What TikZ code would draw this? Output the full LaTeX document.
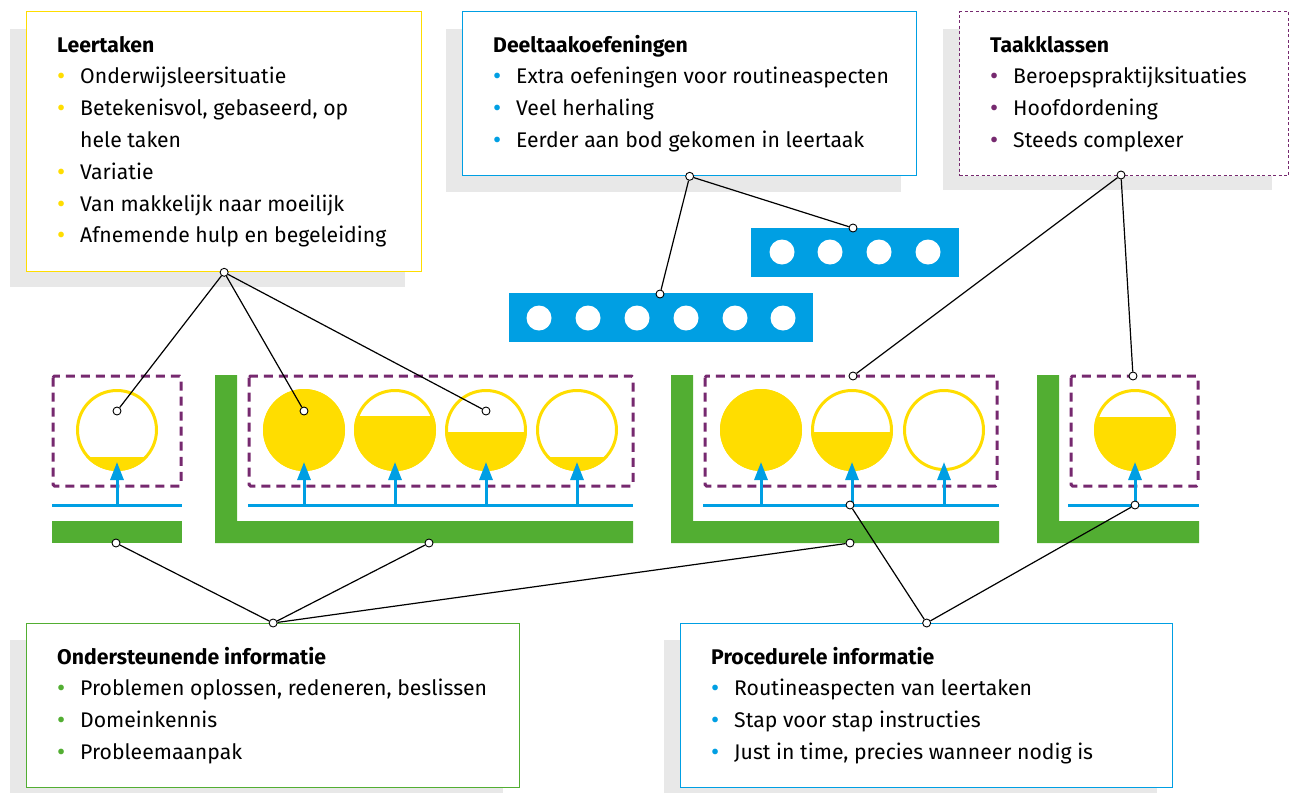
\documentclass[tikz,border=0pt]{standalone}
\usepackage{fontspec}
\setmainfont{Fira Sans}
\usetikzlibrary{arrows.meta}
\definecolor{ryellow}{HTML}{FFDD00}
\definecolor{rblue}{HTML}{009FE3}
\definecolor{rgreen}{HTML}{52AE32}
\definecolor{rpurple}{HTML}{76296F}
\definecolor{shade}{HTML}{E8E8E8}
\newcommand{\itm}[2]{\makebox[23pt][l]{\hspace{0pt}\raisebox{-1pt}{\textcolor{#1}{\fontsize{25}{25}\selectfont\textbullet}}}#2}
\newcommand{\cont}[1]{\hspace*{23pt}#1}
\newcommand{\boxlines}[1]{\vtop{\halign{##\hfil\cr#1\crcr}}}
\tikzset{
  shadowbox/.style={fill=shade, draw=none},
  infobox/.style={fill=white, line width=1.3pt, inner sep=0pt, anchor=north west},
  boxtext/.style={anchor=base west, inner sep=0pt, font=\fontsize{21.2}{31.8}\selectfont},
  dot/.style={circle, draw=black, fill=white, inner sep=0pt, minimum size=8pt, line width=0.9pt},
  conn/.style={draw=black, line width=1.2pt},
  flowline/.style={draw=rblue, line width=3pt},
  uparrow/.style={draw=rblue, line width=3pt, -{Triangle[width=13pt,length=18pt]}},
  classbox/.style={draw=rpurple, line width=3pt, dash pattern=on 9pt off 6pt, rounded corners=1.5pt},
  ring/.style={draw=ryellow, line width=3pt},
  bar/.style={fill=rblue},
  hole/.style={circle, fill=white, inner sep=0pt, minimum size=25pt}
}
\newcommand{\task}[3]{%
  \begin{scope}
    \clip (#1,430) circle[radius=41pt];
    \fill[ryellow] (#1-45,#2) rectangle (#1+45,475);
  \end{scope}
  \node[circle, minimum size=79pt, inner sep=0pt, ring] (#3) at (#1,430) {};
  \draw[uparrow] (#1,505) -- (#1,462);
}
\begin{document}
\begin{tikzpicture}[x=1pt,y=-1pt]
\useasboundingbox (0,0) rectangle (1294,793);

% ---------- shadows ----------
\fill[shadowbox] (10,29) rectangle (405,287);
\fill[shadowbox] (446,29) rectangle (901,192);
\fill[shadowbox] (943,29) rectangle (1272,190);
\fill[shadowbox] (10,640) rectangle (503,793);
\fill[shadowbox] (664,640) rectangle (1157,793);

% ---------- info boxes ----------
\node[infobox, draw=ryellow, minimum width=395pt, minimum height=260pt] (leertaken) at (26,11) {};
\node[boxtext] (leertakentxt) at (57,52) {\boxlines{\textbf{Leertaken}\cr
\itm{ryellow}{Onderwijsleersituatie}\cr
\itm{ryellow}{Betekenisvol, gebaseerd, op}\cr
\cont{hele taken}\cr
\itm{ryellow}{Variatie}\cr
\itm{ryellow}{Van makkelijk naar moeilijk}\cr
\itm{ryellow}{Afnemende hulp en begeleiding}}};

\node[infobox, draw=rblue, minimum width=454pt, minimum height=164pt] (deeltaak) at (462,11) {};
\node[boxtext] (deeltaaktxt) at (493,52) {\boxlines{\textbf{Deeltaakoefeningen}\cr
\itm{rblue}{Extra oefeningen voor routineaspecten}\cr
\itm{rblue}{Veel herhaling}\cr
\itm{rblue}{Eerder aan bod gekomen in leertaak}}};

\node[infobox, draw=rpurple, dash pattern=on 3pt off 2.5pt, minimum width=329pt, minimum height=164pt] (taakklassen) at (959,11) {};
\node[boxtext] (taakklassentxt) at (990,52) {\boxlines{\textbf{Taakklassen}\cr
\itm{rpurple}{Beroepspraktijksituaties}\cr
\itm{rpurple}{Hoofdordening}\cr
\itm{rpurple}{Steeds complexer}}};

\node[infobox, draw=rgreen, minimum width=493pt, minimum height=164pt] (onderst) at (26,623) {};
\node[boxtext] (onderstxt) at (57,664) {\boxlines{\textbf{Ondersteunende informatie}\cr
\itm{rgreen}{Problemen oplossen, redeneren, beslissen}\cr
\itm{rgreen}{Domeinkennis}\cr
\itm{rgreen}{Probleemaanpak}}};

\node[infobox, draw=rblue, minimum width=492pt, minimum height=164pt] (proced) at (680,623) {};
\node[boxtext] (procedtxt) at (711,664) {\boxlines{\textbf{Procedurele informatie}\cr
\itm{rblue}{Routineaspecten van leertaken}\cr
\itm{rblue}{Stap voor stap instructies}\cr
\itm{rblue}{Just in time, precies wanneer nodig is}}};

% ---------- part-task practice bars ----------
\fill[bar] (509,293) rectangle (813,342);
\foreach \cx in {539,588,637,686,735,783} \node[hole] at (\cx,318) {};
\fill[bar] (751,228) rectangle (959,277);
\foreach \cx in {782,830,879,928} \node[hole] at (\cx,252) {};

% ---------- green supportive bars ----------
\fill[rgreen] (52,521) rectangle (182,543);
\fill[rgreen] (215,375) -- (237,375) -- (237,521) -- (633,521) -- (633,543) -- (215,543) -- cycle;
\fill[rgreen] (671,375) -- (693,375) -- (693,521) -- (999,521) -- (999,543) -- (671,543) -- cycle;
\fill[rgreen] (1037,375) -- (1059,375) -- (1059,521) -- (1199,521) -- (1199,543) -- (1037,543) -- cycle;

% ---------- blue procedural lines ----------
\draw[flowline] (52,505) -- (182,505);
\draw[flowline] (248,505) -- (633,505);
\draw[flowline] (703,505) -- (999,505);
\draw[flowline] (1068,505) -- (1199,505);

% ---------- task classes ----------
\draw[classbox] (53,376) rectangle (181,486);
\draw[classbox] (249,376) rectangle (633,486);
\draw[classbox] (705,376) rectangle (997,486);
\draw[classbox] (1071,376) rectangle (1198,486);

% ---------- learning tasks ----------
\task{117}{457}{t11}
\task{304}{380}{t21}
\task{395}{416}{t22}
\task{486}{432}{t23}
\task{577}{457}{t24}
\task{761}{380}{t31}
\task{852}{432}{t32}
\task{944}{480}{t33}
\task{1135}{417}{t41}

% ---------- connectors ----------
\node[dot] (lt0) at (leertaken.south) {};
\node[dot] (lt1) at (117,411) {};
\node[dot] (lt2) at (304,411) {};
\node[dot] (lt3) at (486,411) {};
\draw[conn] (lt0) -- (lt1);
\draw[conn] (lt0) -- (lt2);
\draw[conn] (lt0) -- (lt3);

\node[dot] (dt0) at (deeltaak.south) {};
\node[dot] (dt1) at (660,294) {};
\node[dot] (dt2) at (853,228) {};
\draw[conn] (dt0) -- (dt1);
\draw[conn] (dt0) -- (dt2);

\node[dot] (tk0) at (1121,175) {};
\node[dot] (tk1) at (853,376) {};
\node[dot] (tk2) at (1133,376) {};
\draw[conn] (tk0) -- (tk1);
\draw[conn] (tk0) -- (tk2);

\node[dot] (os0) at (onderst.north) {};
\node[dot] (os1) at (116,543) {};
\node[dot] (os2) at (429,543) {};
\node[dot] (os3) at (850,543) {};
\draw[conn] (os0) -- (os1);
\draw[conn] (os0) -- (os2);
\draw[conn] (os0) -- (os3);

\node[dot] (pi0) at (proced.north) {};
\node[dot] (pi1) at (850,505) {};
\node[dot] (pi2) at (1135,505) {};
\draw[conn] (pi0) -- (pi1);
\draw[conn] (pi0) -- (pi2);
\end{tikzpicture}
\end{document}
